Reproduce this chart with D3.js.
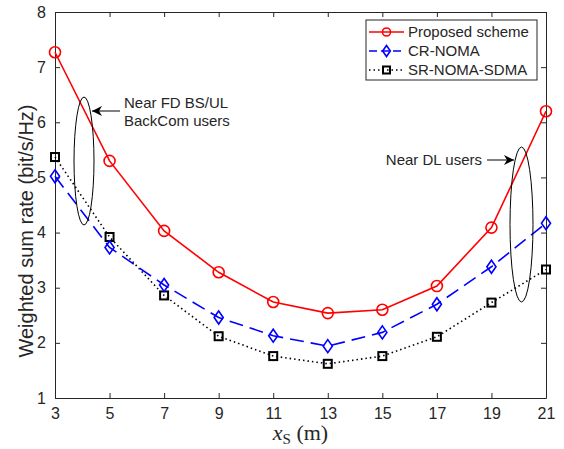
<!DOCTYPE html>
<html>
<head>
<meta charset="utf-8">
<script src="https://cdn.jsdelivr.net/npm/d3@7"></script>
<style>
  body { margin: 0; background: #fff; }
  text { font-family: "Liberation Sans", Arial, sans-serif; fill: #262626; }
</style>
</head>
<body>
<script>
// data
var xValues = [3, 5, 7, 9, 11, 13, 15, 17, 19, 21]
var proposed = [7.27, 5.30, 4.03, 3.28, 2.74, 2.54, 2.60, 3.03, 4.09, 6.20]
var crNoma = [5.02, 3.73, 3.05, 2.46, 2.13, 1.94, 2.19, 2.70, 3.38, 4.17]
var srNomaSdma = [5.37, 3.92, 2.86, 2.12, 1.76, 1.62, 1.76, 2.11, 2.73, 3.33]
var xTicks = [3, 5, 7, 9, 11, 13, 15, 17, 19, 21]
var yTicks = [1, 2, 3, 4, 5, 6, 7, 8]
var seriesNames = ['Proposed scheme', 'CR-NOMA', 'SR-NOMA-SDMA']

var W = 564, H = 449
var margin = {top: 12, right: 18, bottom: 51, left: 55}
var width = W - margin.left - margin.right,
    height = H - margin.top - margin.bottom

var svg = d3.select('body').append('svg')
  .attr('width', W).attr('height', H)

var g = svg.append('g')
  .attr('transform', 'translate(' + margin.left + ',' + margin.top + ')')

var x = d3.scaleLinear().domain([3, 21]).range([0, width])
var y = d3.scaleLinear().domain([1, 8]).range([height, 0])

// axes, ticks pointing inward on all four sides
var tickLen = 5
g.append('g').attr('transform', 'translate(0,' + height + ')')
  .call(d3.axisBottom(x).tickValues(xTicks).tickFormat(d3.format('d')).tickSizeInner(-tickLen).tickSizeOuter(0).tickPadding(10))
g.append('g')
  .call(d3.axisTop(x).tickValues(xTicks).tickSizeInner(-tickLen).tickSizeOuter(0).tickFormat(''))
g.append('g')
  .call(d3.axisLeft(y).tickValues(yTicks).tickFormat(d3.format('d')).tickSizeInner(-tickLen).tickSizeOuter(0).tickPadding(9))
g.append('g').attr('transform', 'translate(' + width + ',0)')
  .call(d3.axisRight(y).tickValues(yTicks).tickSizeInner(-tickLen).tickSizeOuter(0).tickFormat(''))

g.selectAll('.domain').attr('stroke', '#262626').attr('stroke-width', 1)
g.selectAll('.tick line').attr('stroke', '#262626')
g.selectAll('.tick text').style('font-size', '16px').attr('fill', '#262626')

// axis labels
svg.append('text')
  .attr('transform', 'translate(33,231) rotate(-90)')
  .attr('text-anchor', 'middle')
  .style('font-size', '20px')
  .text('Weighted sum rate (bit/s/Hz)')

var xl = svg.append('text')
  .attr('x', margin.left + width / 2).attr('y', 440)
  .attr('text-anchor', 'middle')
  .style('font-family', '"Liberation Serif", "DejaVu Serif", serif')
  .style('font-size', '22px')
xl.append('tspan').style('font-style', 'italic').text('x')
xl.append('tspan').attr('dy', 4).style('font-size', '15px').text('S')
xl.append('tspan').attr('dy', -4).text(' (m)')

var line = d3.line()
  .x(function(d, i) { return x(xValues[i]) })
  .y(function(d) { return y(d) })

function drawSeries(vals, color, dash, marker) {
  g.append('path').datum(vals)
    .attr('fill', 'none').attr('stroke', color)
    .attr('stroke-width', 1.6)
    .attr('stroke-dasharray', dash)
    .attr('d', line)
  vals.forEach(function(v, i) {
    marker(g, x(xValues[i]), y(v), color)
  })
}

function circleMark(sel, cx, cy, c, r) {
  sel.append('circle').attr('cx', cx).attr('cy', cy).attr('r', r || 5.5)
    .attr('fill', 'none').attr('stroke', c).attr('stroke-width', 1.6)
}
function diamondMark(sel, cx, cy, c, s) {
  s = s || 6.5
  sel.append('path')
    .attr('d', 'M' + cx + ',' + (cy - s) + 'L' + (cx + s * 0.7) + ',' + cy + 'L' + cx + ',' + (cy + s) + 'L' + (cx - s * 0.7) + ',' + cy + 'Z')
    .attr('fill', 'none').attr('stroke', c).attr('stroke-width', 1.6)
}
function squareMark(sel, cx, cy, c, s) {
  s = s || 4
  sel.append('rect').attr('x', cx - s).attr('y', cy - s)
    .attr('width', 2 * s).attr('height', 2 * s)
    .attr('fill', 'none').attr('stroke', c).attr('stroke-width', 2)
}

drawSeries(srNomaSdma, '#000', '1.5,3', squareMark)
drawSeries(crNoma, '#0000ff', '14,7', diamondMark)
drawSeries(proposed, '#ff0000', null, circleMark)

// annotations
var ann = svg.append('g')
ann.append('ellipse').attr('cx', 84).attr('cy', 161).attr('rx', 10).attr('ry', 64)
  .attr('fill', 'none').attr('stroke', '#000').attr('stroke-width', 1)
ann.append('ellipse').attr('cx', 521.5).attr('cy', 224.5).attr('rx', 11.5).attr('ry', 77.5)
  .attr('fill', 'none').attr('stroke', '#000').attr('stroke-width', 1)

svg.append('defs').append('marker')
  .attr('id', 'arr').attr('viewBox', '0 0 10 10').attr('refX', 10).attr('refY', 5)
  .attr('markerWidth', 10).attr('markerHeight', 10).attr('markerUnits', 'userSpaceOnUse')
  .attr('orient', 'auto')
  .append('path').attr('d', 'M0,0L10,5L0,10L3,5Z').attr('fill', '#000')

ann.append('line').attr('x1', 120).attr('y1', 111).attr('x2', 92).attr('y2', 111)
  .attr('stroke', '#000').attr('marker-end', 'url(#arr)')
ann.append('line').attr('x1', 487).attr('y1', 160).attr('x2', 514).attr('y2', 160)
  .attr('stroke', '#000').attr('marker-end', 'url(#arr)')

ann.append('text').attr('x', 124).attr('y', 108).style('font-size', '15px').text('Near FD BS/UL')
ann.append('text').attr('x', 124).attr('y', 126).style('font-size', '15px').text('BackCom users')
ann.append('text').attr('x', 482).attr('y', 165).attr('text-anchor', 'end')
  .style('font-size', '15px').text('Near DL users')

// legend
var lg = svg.append('g')
lg.append('rect').attr('x', 366).attr('y', 20).attr('width', 171).attr('height', 60)
  .attr('fill', '#fff').attr('stroke', '#262626').attr('stroke-width', 1)
var legColors = ['#ff0000', '#0000ff', '#000']
var legDash = [null, '8,4', '1.5,3']
var legMarks = [circleMark, diamondMark, squareMark]
seriesNames.forEach(function(name, i) {
  var ly = 32 + i * 19
  lg.append('line').attr('x1', 369).attr('x2', 404).attr('y1', ly).attr('y2', ly)
    .attr('stroke', legColors[i]).attr('stroke-width', 1.6).attr('stroke-dasharray', legDash[i])
  if (i == 0) legMarks[i](lg, 386.5, ly, legColors[i], 4)
  else if (i == 1) legMarks[i](lg, 386.5, ly, legColors[i], 5.5)
  else legMarks[i](lg, 386.5, ly, legColors[i], 3.5)
  lg.append('text').attr('x', 408).attr('y', ly + 5).style('font-size', '15px').text(name)
})
</script>
</body>
</html>
